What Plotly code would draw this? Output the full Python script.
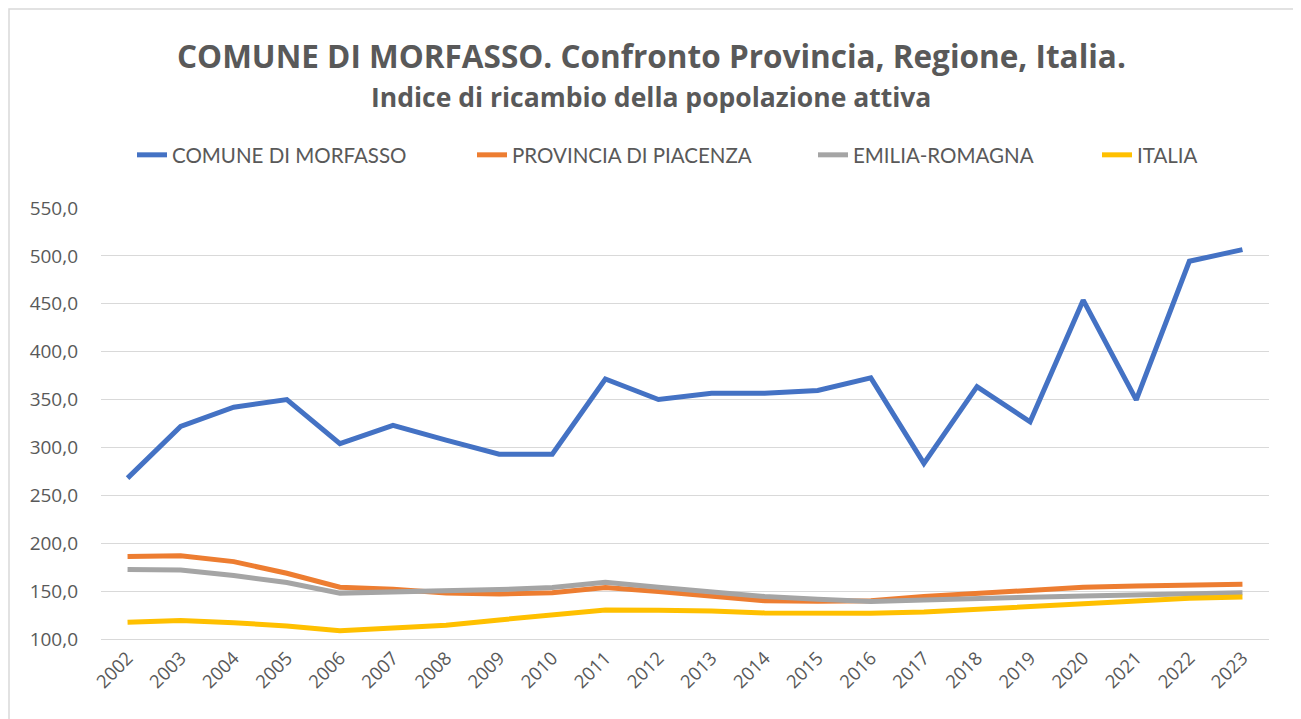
import plotly.graph_objects as go

years = [str(y) for y in range(2002, 2024)]

morfasso = [268, 322, 342, 350, 304, 323, 307.6, 293, 293, 371.5, 350,
            356.6, 356.6, 359.4, 372.6, 283.3, 363.5, 326.7, 453.8, 349.7, 494.4, 506.6]
piacenza = [186.1, 186.8, 180.8, 168.6, 154.0, 152.0, 148.0, 147.0, 148.4, 153.7, 149.6,
            144.4, 139.9, 139.5, 140.0, 144.4, 147.7, 151.9, 154.0, 155.4, 156.4, 157.1]
emilia = [172.5, 172.1, 166.2, 159.0, 147.9, 149.0, 149.7, 151.6, 153.7, 159.2, 154.0,
          149.6, 144.4, 141.6, 139.2, 140.6, 141.6, 143.7, 145.0, 146.1, 147.7, 148.4]
italia = [117.4, 119.2, 117.0, 113.6, 108.7, 111.8, 114.3, 119.9, 124.7, 130.3, 130.0,
          129.3, 127.2, 127.2, 126.8, 128.2, 131.0, 133.8, 136.6, 139.4, 142.5, 143.9]

series_names = ["COMUNE DI MORFASSO", "PROVINCIA DI PIACENZA", "EMILIA-ROMAGNA", "ITALIA"]
series_values = [morfasso, piacenza, emilia, italia]
series_colors = ["#4472C4", "#ED7D31", "#A5A5A5", "#FFC000"]

title_text = "COMUNE DI MORFASSO. Confronto Provincia, Regione, Italia."
subtitle_text = "Indice di ricambio della popolazione attiva"

W, H = 1301, 719
OFF = 8  # page body margin: figure is drawn at (8, 8) on screen
# plot area on screen: x 101..1269, y 208..639
L = 101 - OFF
T = 208 - OFF
R = W - (1269 - OFF)
B = H - (639 - OFF)
pw, ph = W - L - R, H - T - B


def px_x(sx):
    return (sx - OFF - L) / pw


def px_y(sy):
    return (H - B - (sy - OFF)) / ph


legend_ids = ["legend", "legend2", "legend3", "legend4"]
legend_text_x = [172, 512, 853, 1137]

fig = go.Figure()
for name, vals, col, lid in zip(series_names, series_values, series_colors, legend_ids):
    fig.add_trace(go.Scatter(x=years, y=vals, name=name, mode="lines", legend=lid,
                             line=dict(color=col, width=5)))

legend_common = dict(orientation="h", yanchor="middle", xanchor="left",
                     font=dict(family="Lato", size=20.5, color="#595959"),
                     bgcolor="rgba(0,0,0,0)", borderwidth=0)
legend_layout = {}
for lid, tx in zip(legend_ids, legend_text_x):
    legend_layout[lid] = dict(x=px_x(tx - 40), y=px_y(155), **legend_common)

fig.update_layout(
    width=W, height=H,
    margin=dict(l=L, r=R, t=T, b=B, autoexpand=False),
    paper_bgcolor="white", plot_bgcolor="white",
    separators=",.",
    font=dict(family="Open Sans", color="#595959"),
    showlegend=True,
    xaxis=dict(type="category", range=[-0.5, 21.5], tickangle=-45, automargin=False,
               tickfont=dict(family="Open Sans", size=18.5, color="#595959"),
               showgrid=False, showline=True, linecolor="#D9D9D9", linewidth=1.3,
               ticks=""),
    yaxis=dict(range=[100, 550], dtick=50, tickformat=".1f", automargin=False,
               tickfont=dict(family="Open Sans", size=19, color="#595959"),
               showgrid=True, gridcolor="#D9D9D9", gridwidth=1.3, zeroline=False,
               showline=False, ticks="", ticklabelstandoff=22),
    annotations=[
        dict(text="<b>" + title_text + "</b>", xref="paper", yref="paper",
             x=px_x(651), y=px_y(56), xanchor="center", yanchor="middle", showarrow=False,
             font=dict(family="Open Sans", size=31.5, color="#595959")),
        dict(text="<b>" + subtitle_text + "</b>", xref="paper", yref="paper",
             x=px_x(651), y=px_y(97), xanchor="center", yanchor="middle", showarrow=False,
             font=dict(family="Open Sans", size=26.5, color="#595959")),
    ],
    shapes=[dict(type="rect", xref="paper", yref="paper",
                 x0=px_x(9), x1=px_x(1298), y0=px_y(740), y1=px_y(9),
                 line=dict(color="#D9D9D9", width=1.5), layer="below")],
    **legend_layout,
)

fig.write_html("out.html")
